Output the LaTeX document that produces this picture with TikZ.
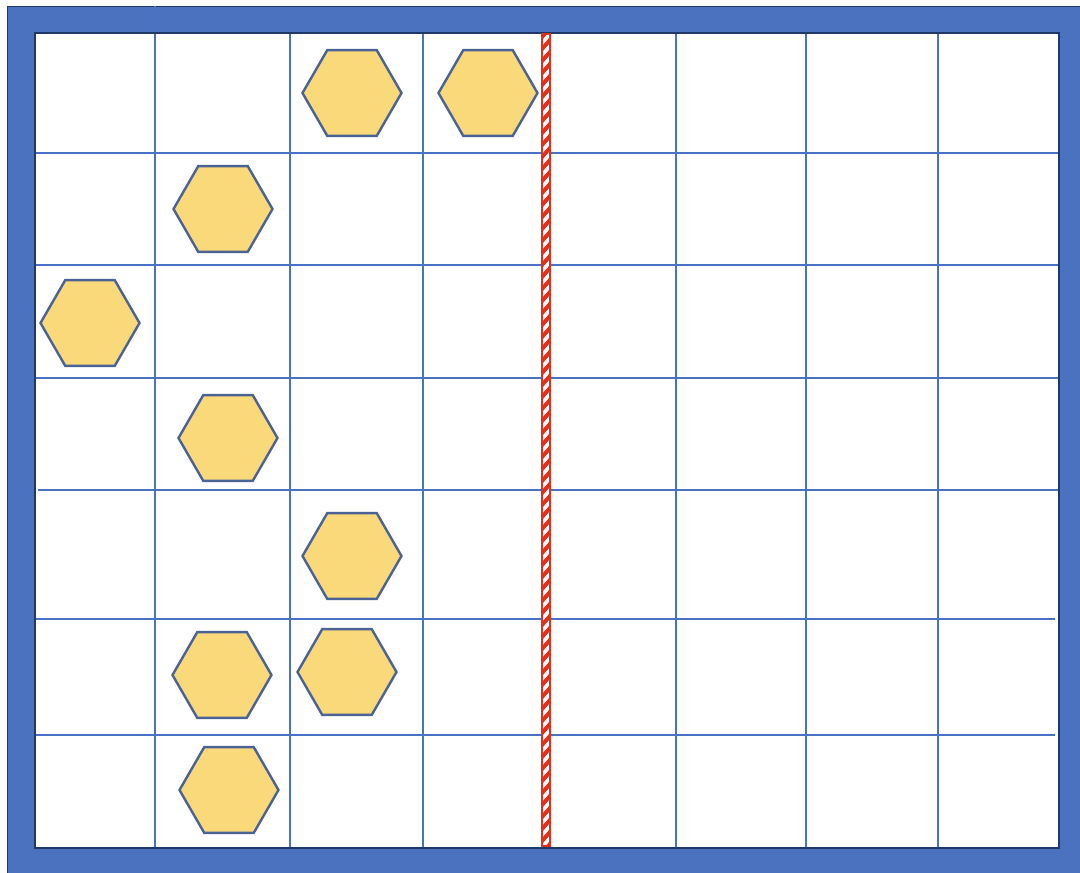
\documentclass[tikz,border=0pt]{standalone}
\usetikzlibrary{shapes.geometric}
\definecolor{frameblue}{HTML}{4A72BF}
\definecolor{navy}{HTML}{1F3868}
\definecolor{gridblue}{HTML}{4A72C4}
\definecolor{hexfill}{HTML}{F9D97A}
\definecolor{hexline}{HTML}{4A6394}
\definecolor{barred}{HTML}{E0301E}
\tikzset{
  hexa/.style={regular polygon, regular polygon sides=6, minimum size=99pt, inner sep=0pt, outer sep=0pt, fill=hexfill, draw=hexline, line width=2.4pt},
  gridline/.style={draw=gridblue, line width=1.8pt},
}
\begin{document}
\begin{tikzpicture}[x=1pt,y=-1pt]
\useasboundingbox (0,0) rectangle (1080,873);
\fill[white] (0,0) rectangle (1080,873);
% outer frame
\fill[frameblue] (7,6) rectangle (1085,880);
\draw[navy, line width=1pt] (7,880) -- (7,6) -- (1085,6);
% inner area
\fill[white] (35,33) rectangle (1059,848);
% grid
\coordinate (t1) at (155,6); \coordinate (b1) at (155,848);
\draw[gridline] (t1) -- (b1);
\foreach \x in {290,423,676,806,938} {
  \draw[gridline] (\x,33) -- (\x,848);
}
\foreach \y/\xa/\xb in {153/35/1059,265/35/1059,378/35/1059,490/38/1059,619/35/1055,735/35/1055} {
  \draw[gridline] (\xa,\y) -- (\xb,\y);
}
\draw[navy, line width=2.4pt] (35,33) rectangle (1059,848);
% red striped bar
\begin{scope}
\clip (542,34) rectangle (550,846);
\fill[white] (542,34) rectangle (550,846);
\foreach \k in {0,...,70} {
  \fill[barred] ({542},{34+\k*12}) -- ({550},{34+\k*12-9}) -- ({550},{34+\k*12-3}) -- ({542},{34+\k*12+6}) -- cycle;
}
\end{scope}
\node[draw=barred, line width=1.6pt, minimum width=8pt, minimum height=812pt, inner sep=0pt, outer sep=0pt] (bar) at (546,440) {};
% hexagons
\node[hexa] (h1) at (352,93) {};
\node[hexa] (h2) at (488,93) {};
\node[hexa] (h3) at (223,209) {};
\node[hexa] (h4) at (90,323) {};
\node[hexa] (h5) at (228,438) {};
\node[hexa] (h6) at (352,556) {};
\node[hexa] (h7) at (222,675) {};
\node[hexa] (h8) at (347,672) {};
\node[hexa] (h9) at (229,790) {};
\end{tikzpicture}
\end{document}
